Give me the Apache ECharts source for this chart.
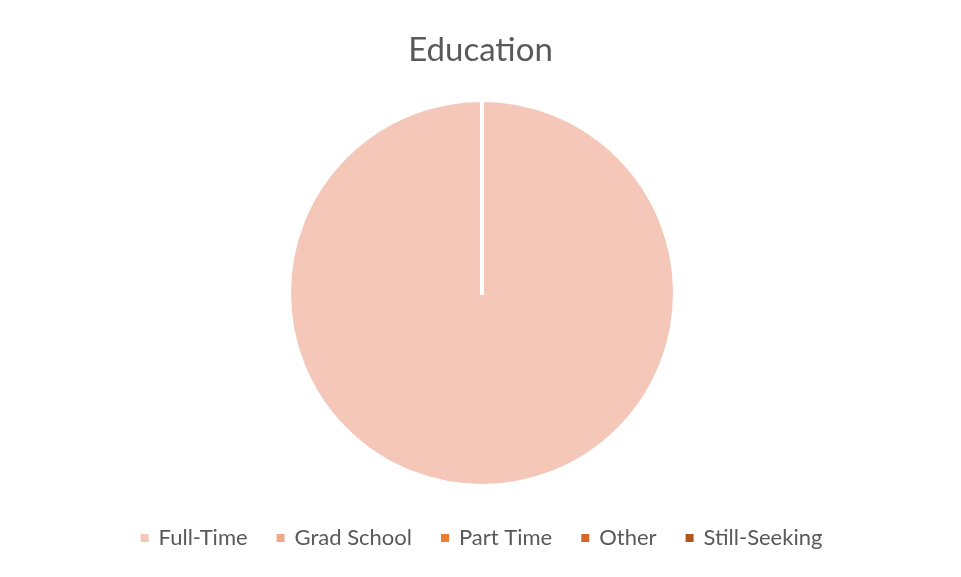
<!DOCTYPE html>
<html>
<head>
<meta charset="utf-8">
<script src="https://cdn.jsdelivr.net/npm/echarts@6/dist/echarts.min.js"></script>
<style>
html,body{margin:0;padding:0;background:#fff;}
#chart{width:961px;height:577px;}
</style>
</head>
<body>
<div id="chart"></div>
<script>
// 图表数据
var categories = ['Full-Time', 'Grad School', 'Part Time', 'Other', 'Still-Seeking'];
var values = [100, 0, 0, 0, 0];
var colors = ['#F4C7B8', '#F0A78C', '#ED7D31', '#D4692A', '#B0571E'];

var chart = echarts.init(document.getElementById('chart'));
var option = {
    animation: false,
    title: {
        text: 'Education',
        left: 'center',
        top: 29,
        textStyle: {
            fontFamily: 'Lato, "Open Sans", sans-serif',
            fontSize: 33,
            fontWeight: 'normal',
            color: '#595959'
        }
    },
    legend: {
        bottom: 23,
        left: 'center',
        icon: 'rect',
        itemWidth: 10,
        itemHeight: 10,
        itemGap: 27,
        textStyle: {
            fontFamily: 'Lato, "Open Sans", sans-serif',
            fontSize: 22,
            color: '#595959',
            padding: [0, 0, 0, 4]
        },
        data: categories
    },
    series: [
        {
            name: 'Education',
            type: 'pie',
            radius: 193,
            center: [482, 293],
            startAngle: 90,
            clockwise: true,
            label: {show: false},
            labelLine: {show: false},
            itemStyle: {
                borderColor: '#ffffff',
                borderWidth: 4
            },
            data: categories.map(function (name, i) {
                return {name: name, value: values[i], itemStyle: {color: colors[i]}};
            })
        }
    ]
};
chart.setOption(option);
</script>
</body>
</html>
